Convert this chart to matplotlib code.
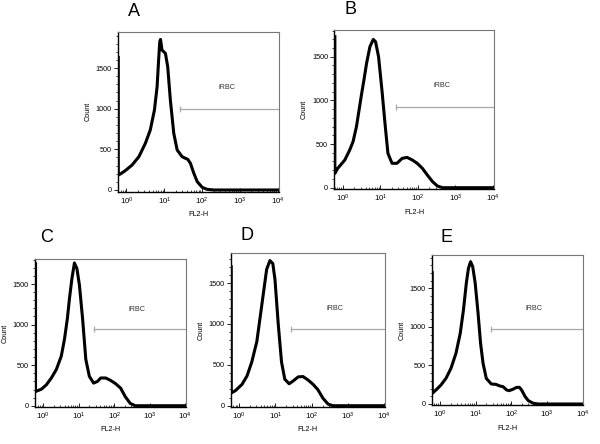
import numpy as np
import matplotlib
matplotlib.use("Agg")
from matplotlib import pyplot as plt
from matplotlib.ticker import LogLocator, MultipleLocator, FixedLocator, NullFormatter

plt.rcParams['font.family'] = ['Liberation Sans', 'DejaVu Sans']
plt.rcParams['mathtext.fontset'] = 'custom'
plt.rcParams['mathtext.rm'] = 'Liberation Sans'

# FL2-H positions in decades (log10), counts
a_dec = [-0.215, -0.215, -0.16, -0.03, 0.15, 0.33, 0.50, 0.63, 0.74, 0.81, 0.85, 0.88, 0.90, 0.94,
         1.03, 1.09, 1.16, 1.25, 1.34, 1.47, 1.56, 1.62, 1.69, 1.78, 1.87, 2.00, 2.13, 2.30, 4.1]
a_cnt = [1630, 184, 197, 238, 307, 410, 574, 738, 984, 1270, 1598, 1824, 1852, 1721,
         1680, 1516, 1107, 697, 492, 410, 389, 377, 328, 205, 102, 33, 8, 0, 0]

b_dec = [-0.215, -0.215, -0.14, 0.05, 0.18, 0.27, 0.36, 0.43, 0.50, 0.56, 0.63, 0.72, 0.81, 0.87,
         0.95, 1.04, 1.13, 1.20, 1.31, 1.44, 1.58, 1.71, 1.85, 1.98, 2.12, 2.25, 2.39, 2.52, 2.66, 4.1]
b_cnt = [1730, 164, 221, 317, 431, 527, 698, 889, 1080, 1233, 1424, 1615, 1698, 1672,
         1500, 1118, 698, 393, 279, 279, 336, 347, 317, 279, 221, 145, 69, 19, 0, 0]

c_dec = [-0.215, -0.215, -0.05, 0.09, 0.23, 0.37, 0.51, 0.60, 0.68, 0.74, 0.81, 0.88, 0.95, 1.02,
         1.11, 1.20, 1.30, 1.42, 1.53, 1.62, 1.76, 1.90, 2.04, 2.18, 2.31, 2.45, 2.59, 4.1]
c_cnt = [1750, 175, 204, 258, 342, 446, 612, 821, 1071, 1321, 1571, 1760, 1690, 1488,
         1071, 571, 362, 279, 300, 342, 342, 312, 271, 217, 112, 29, 0, 0]

d_dec = [-0.215, -0.215, -0.10, 0.08, 0.22, 0.35, 0.49, 0.58, 0.67, 0.76, 0.85, 0.93, 0.99, 1.08,
         1.17, 1.26, 1.38, 1.49, 1.63, 1.76, 1.90, 2.04, 2.17, 2.31, 2.45, 2.58, 4.1]
d_cnt = [1700, 155, 185, 260, 365, 534, 786, 1080, 1374, 1668, 1776, 1740, 1542, 996,
         534, 324, 269, 303, 353, 357, 315, 261, 197, 92, 21, 0, 0]

e_dec = [-0.215, -0.215, -0.11, 0.03, 0.17, 0.31, 0.45, 0.57, 0.66, 0.74, 0.80, 0.86, 0.92, 0.99,
         1.07, 1.14, 1.21, 1.30, 1.44, 1.57, 1.68, 1.77, 1.87, 1.94, 2.04, 2.15, 2.23, 2.29, 2.39,
         2.48, 2.62, 2.76, 4.1]
e_cnt = [1705, 138, 182, 247, 333, 463, 658, 918, 1221, 1567, 1762, 1848, 1784, 1567,
         1177, 788, 528, 333, 260, 255, 234, 225, 182, 173, 190, 216, 216, 182, 95,
         43, 9, 0, 0]

panel_names = ["A", "B", "C", "D", "E"]
gate_y = [1000, 920, 940, 935, 970]
gate_start = 10 ** 1.42
label_pos = 10 ** 2.65
label_y = [1260, 1165, 1190, 1185, 1235]
ylims = [(-21, 1947), (-15, 1806), (-12, 1805), (-12, 1865), (-13, 1935)]

# axes boxes in pixels: left, top, right, bottom
boxes = [(117.7, 31.7, 278.7, 191.7),
         (334.3, 30.0, 493.7, 189.0),
         (35.0, 259.3, 186.0, 406.7),
         (230.7, 253.3, 385.0, 406.7),
         (431.7, 255.0, 583.3, 405.0)]
# panel letter centres in pixels
letter_xy = [(134, 11), (350, 10), (47, 237), (247, 235), (446, 237)]

W, H = 600, 444
fig = plt.figure(figsize=(W / 100, H / 100), dpi=100)

curves = [(a_dec, a_cnt), (b_dec, b_cnt), (c_dec, c_cnt), (d_dec, d_cnt), (e_dec, e_cnt)]

for i, (dec, cnt) in enumerate(curves):
    l, t, r, b = boxes[i]
    ax = fig.add_axes([l / W, (H - b) / H, (r - l) / W, (b - t) / H])
    ax.set_xscale('log')
    x = 10 ** np.array(dec)
    ax.plot(x, cnt, color='black', lw=2.2, solid_joinstyle='round')
    ax.set_xlim(10 ** -0.23, 10 ** 4.02)
    ax.set_ylim(*ylims[i])

    # gate
    ax.plot([gate_start, 10 ** 4.1], [gate_y[i], gate_y[i]], color='#a8a8a8', lw=0.9)
    ax.plot([gate_start], [gate_y[i]], marker='|', ms=5, mew=0.9, color='#a8a8a8')
    ax.text(label_pos, label_y[i], "iRBC", fontsize=5.2, color='#333333', ha='center', va='center')

    ax.xaxis.set_major_locator(FixedLocator([1, 10, 100, 1000, 10000]))
    ax.xaxis.set_minor_locator(LogLocator(base=10, subs=np.arange(2, 10)))
    ax.xaxis.set_minor_formatter(NullFormatter())
    ax.set_xticklabels([r'$\mathregular{10^0}$', r'$\mathregular{10^1}$', r'$\mathregular{10^2}$',
                        r'$\mathregular{10^3}$', r'$\mathregular{10^4}$'])
    ax.yaxis.set_major_locator(FixedLocator([0, 500, 1000, 1500]))
    ax.yaxis.set_minor_locator(MultipleLocator(100))
    ax.tick_params(axis='x', which='major', direction='in', length=3, width=0.6, labelsize=5.6, pad=3)
    ax.tick_params(axis='x', which='minor', direction='in', length=1.5, width=0.5)
    ax.tick_params(axis='y', which='major', direction='out', length=3, width=0.6, labelsize=5.2, pad=1.5)
    ax.tick_params(axis='y', which='minor', direction='out', length=1.5, width=0.5)

    for s in ['top', 'right']:
        ax.spines[s].set_color('#777777')
        ax.spines[s].set_linewidth(0.8)
    for s in ['left', 'bottom']:
        ax.spines[s].set_color('black')
        ax.spines[s].set_linewidth(1.0)

    ax.set_ylabel("Count", fontsize=5.2, labelpad=3)
    ax.set_xlabel("FL2-H", fontsize=5.2, labelpad=3)

    lx, ly = letter_xy[i]
    fig.text(lx / W, (H - ly) / H, panel_names[i], fontsize=13, ha='center', va='center')

fig.savefig("out.png", dpi=100, facecolor='white')
